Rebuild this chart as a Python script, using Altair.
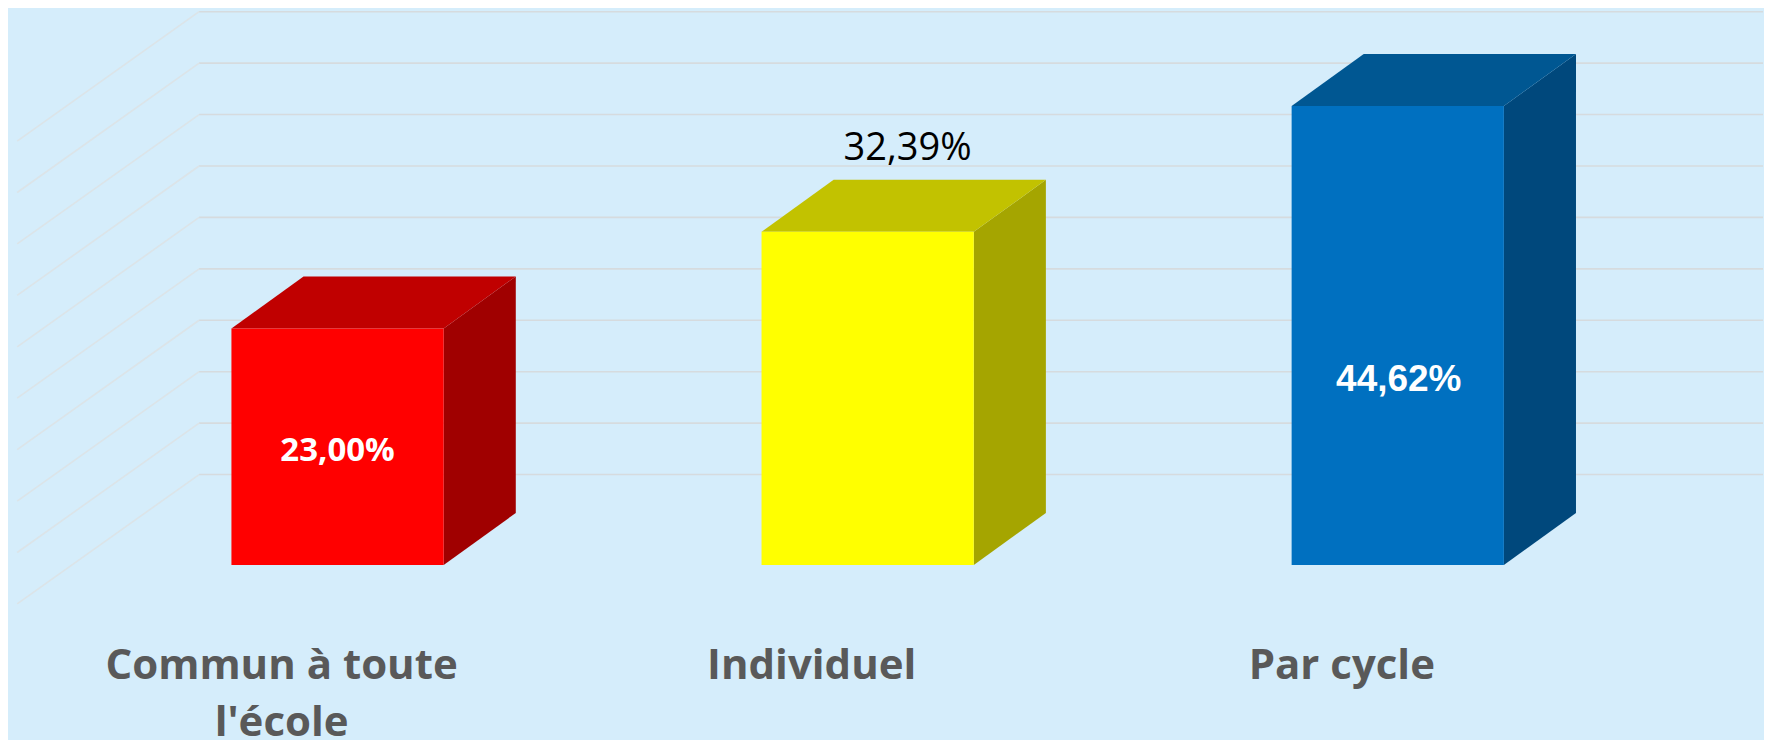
import altair as alt
import pandas as pd

categories = ["Commun à toute\nl'école", "Individuel", "Par cycle"]
values = [23.00, 32.39, 44.62]
positions = [0, 1, 2]
value_labels = ["23,00%", "32,39%", "44,62%"]
front_colors = ["#FF0000", "#FFFF00", "#0070C0"]
top_colors = ["#C00000", "#C2C200", "#005792"]
side_colors = ["#A00000", "#A5A500", "#00487C"]
grid_values = [5, 10, 15, 20, 25, 30, 35, 40, 45, 50]

BG = "#D5EDFB"
WIDTH, HEIGHT = 1756, 732
X_DOMAIN = [-0.6217, 2.6890]
Y_DOMAIN = [-17.0, 54.13]
HALF = 0.2002        # half bar width, in category units
DEPTH_X = 0.1360     # 3-D depth, in category units
DEPTH_Y = 5.05       # 3-D depth, in value units
WALL_X = -0.2612     # where the back wall starts
WALL_END = -0.6044   # left end of the side wall lines
WALL_DROP = 12.58    # side wall drop, in value units
GRID_SHIFT = 3.79    # back wall offset, in value units

bars = pd.DataFrame({
    "cat": categories, "pos": positions, "v": values, "lab": value_labels,
    "front": front_colors,
})
bars["l"] = bars.pos - HALF
bars["r"] = bars.pos + HALF
bars["lb"] = bars.l + DEPTH_X
bars["rb"] = bars.r + DEPTH_X

grid_df = pd.DataFrame({"g": grid_values})
grid_df["ya"] = grid_df.g + GRID_SHIFT
grid_df["yl"] = grid_df.ya - WALL_DROP
grid_df["x0"] = WALL_X
grid_df["x1"] = X_DOMAIN[1]
grid_df["xl"] = WALL_END

X_SCALE = alt.Scale(domain=X_DOMAIN, nice=False, zero=False)
Y_SCALE = alt.Scale(domain=Y_DOMAIN, nice=False, zero=False)
def qx(f):
    return alt.X(f, type="quantitative", scale=X_SCALE, axis=None)
def qy(f):
    return alt.Y(f, type="quantitative", scale=Y_SCALE, axis=None)

back = alt.Chart(grid_df).mark_rule(color="#D6DBDE", strokeWidth=1.6).encode(
    x=qx("x0"), x2="x1:Q", y=qy("ya"), y2="ya:Q")
wall = alt.Chart(grid_df).mark_rule(color="#DCE4E8", strokeWidth=1.6).encode(
    x=qx("x0"), x2="xl:Q", y=qy("ya"), y2="yl:Q")

faces = []
for b, sc, tc in zip(bars.itertuples(), side_colors, top_colors):
    side_df = pd.DataFrame({
        "px": [b.r, b.rb],
        "vt": [b.v, b.v + DEPTH_Y],
        "vb": [0.0, DEPTH_Y],
    })
    top_df = pd.DataFrame({
        "vy": [b.v, b.v + DEPTH_Y],
        "pa": [b.l, b.lb],
        "pb": [b.r, b.rb],
    })
    faces.append(alt.Chart(side_df).mark_area(color=sc, interpolate="linear").encode(
        x=qx("px"), y=qy("vt"), y2="vb:Q"))
    faces.append(alt.Chart(top_df).mark_area(color=tc, orient="horizontal", interpolate="linear").encode(
        y=qy("vy"), x=qx("pa"), x2="pb:Q"))

front = alt.Chart(bars).transform_calculate(base="0").mark_rect().encode(
    x=qx("l"), x2="r:Q", y=qy("v"), y2="base:Q",
    color=alt.Color("front:N", scale=None))

def value_text(i, **kw):
    return alt.Chart(bars.iloc[[i]]).transform_calculate(mid="datum.v/2").mark_text(**kw).encode(
        x=qx("pos"), y=qy("mid"), text="lab:N")

lab0 = value_text(0, font="Open Sans", fontWeight="bold", fontSize=33, color="#FFFFFF", dy=4)
lab2 = value_text(2, font="Liberation Sans", fontWeight="bold", fontSize=37, color="#FFFFFF", dy=45, dx=1)
lab1 = alt.Chart(bars.iloc[[1]]).mark_text(
    font="Open Sans", fontSize=38, color="#000000", baseline="alphabetic", dx=40, dy=-72
).encode(x=qx("pos"), y=qy("v"), text="lab:N")

cat_df = bars[["pos", "cat"]].copy()
cat_df["ty"] = Y_DOMAIN[0] + 5.92
cats = alt.Chart(cat_df).mark_text(
    font="Open Sans", fontWeight="bold", fontSize=42, color="#595959",
    baseline="alphabetic", lineBreak="\n", lineHeight=57, dx=-56
).encode(x=qx("pos"), y=qy("ty"), text="cat:N")

chart = alt.layer(back, wall, *faces, front, cats, lab0, lab1, lab2).properties(
    width=WIDTH, height=HEIGHT, padding=0, background=BG
).configure_view(stroke=None)

chart.save("out.html", embed_options={"renderer": "svg", "actions": False})
